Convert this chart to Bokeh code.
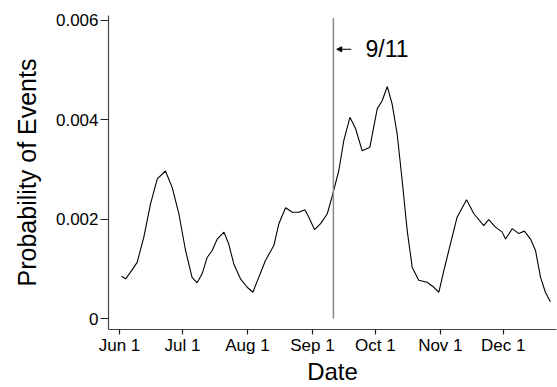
from bokeh.plotting import figure
from bokeh.models import Range1d, FixedTicker, Arrow, NormalHead, Label
from bokeh.embed import file_html
from bokeh.resources import INLINE

# Day offsets from Jun 1 (2001) and estimated event probability
days = [1, 2.9, 5.2, 8.4, 11.6, 14.8, 18, 21.9, 25.1, 28.3, 31.5, 34.6, 37, 39.4,
        41.8, 44.2, 46.6, 49.8, 52.1, 54.5, 57.7, 60.9, 63.6, 66.4, 69.6, 73.6, 76,
        79.2, 82.4, 85.5, 88.4, 90.3, 93, 95.9, 99.1, 101.4, 104.6, 107, 109.9, 112.6,
        115.7, 119.4, 122.9, 125.3, 127.7, 130, 132.4, 134.8, 137.2, 139.6, 142.7,
        146.7, 149.9, 152.3, 154.7, 157.8, 161, 165.5, 169, 173.7, 176.1, 179.3,
        182.5, 184.1, 187.3, 190.4, 193.1, 196, 198.4, 200.8, 203.1, 205.5]
probability = [0.00085, 0.0008, 0.00093, 0.00113, 0.00164, 0.00231, 0.00281, 0.00297,
               0.00264, 0.00211, 0.00137, 0.00083, 0.00072, 0.0009, 0.00123, 0.00137,
               0.0016, 0.00174, 0.0015, 0.0011, 0.0008, 0.00063, 0.00053, 0.00083,
               0.00117, 0.00147, 0.00191, 0.00223, 0.00214, 0.00214, 0.00219, 0.00204,
               0.00179, 0.00191, 0.00211, 0.00246, 0.00298, 0.00359, 0.00405, 0.00382,
               0.00338, 0.00345, 0.00422, 0.00439, 0.00467, 0.00432, 0.00372, 0.00278,
               0.00177, 0.00103, 0.00077, 0.00073, 0.00063, 0.00053, 0.00097, 0.0015,
               0.00204, 0.00239, 0.00211, 0.00187, 0.00199, 0.00184, 0.00174, 0.0016,
               0.00181, 0.00171, 0.00176, 0.0016, 0.00137, 0.00083, 0.00053, 0.00034]

tick_days = [0, 30, 61, 92, 122, 153, 183]
tick_labels = ["Jun 1", "Jul 1", "Aug 1", "Sep 1", "Oct 1", "Nov 1", "Dec 1"]
y_ticks = [0, 0.002, 0.004, 0.006]
y_tick_labels = ["0", "0.002", "0.004", "0.006"]

event_day = 102          # Sep 11
event_label = "9/11"
event_line_top = 0.00605
event_label_y = 0.00542

FONT = "Liberation Sans"

p = figure(width=557, height=387, output_backend="svg", toolbar_location=None,
           x_range=Range1d(-5.25, 208.4), y_range=Range1d(-0.00022, 0.0061),
           min_border_left=108, min_border_right=1, min_border_top=15,
           min_border_bottom=58)
p.outline_line_color = None
p.xgrid.visible = False
p.ygrid.visible = False

p.line(days, probability, line_color="black", line_width=1.1)
p.segment(x0=[event_day], y0=[0], x1=[event_day], y1=[event_line_top],
          line_color="#8a8a8a", line_width=1.5)

p.add_layout(Arrow(end=NormalHead(size=5, fill_color="black", line_color="black"),
                   x_start=event_day + 8.5, y_start=event_label_y,
                   x_end=event_day + 1.6, y_end=event_label_y,
                   line_color="black", line_width=1))
p.add_layout(Label(x=event_day + 15.3, y=event_label_y, text=event_label,
                   text_baseline="middle", text_font=FONT, text_font_size="23px",
                   text_color="black"))

p.xaxis.ticker = FixedTicker(ticks=tick_days)
p.xaxis.major_label_overrides = dict(zip(tick_days, tick_labels))
p.yaxis.ticker = FixedTicker(ticks=y_ticks)
p.yaxis.major_label_overrides = dict(zip(y_ticks, y_tick_labels))

p.xaxis.axis_label = "Date"
p.yaxis.axis_label = "Probability of Events"

for ax in (p.xaxis, p.yaxis):
    ax.axis_line_color = "#444444"
    ax.axis_line_width = 1.2
    ax.major_tick_line_color = "#222222"
    ax.major_tick_line_width = 1.2
    ax.minor_tick_line_color = None
    ax.major_tick_in = 0
    ax.major_label_text_font = FONT
    ax.major_label_text_font_size = "17px"
    ax.major_label_text_color = "black"
    ax.axis_label_text_font = FONT
    ax.axis_label_text_font_style = "normal"
    ax.axis_label_text_color = "black"

p.xaxis.axis_label_text_font_size = "24px"
p.yaxis.axis_label_text_font_size = "25px"
p.xaxis.major_tick_out = 5
p.xaxis.major_label_standoff = 1
p.xaxis.axis_label_standoff = 0
p.yaxis.major_tick_out = 8
p.yaxis.major_label_standoff = 2
p.yaxis.axis_label_standoff = 12

open("out.html", "w").write(file_html(p, INLINE))
